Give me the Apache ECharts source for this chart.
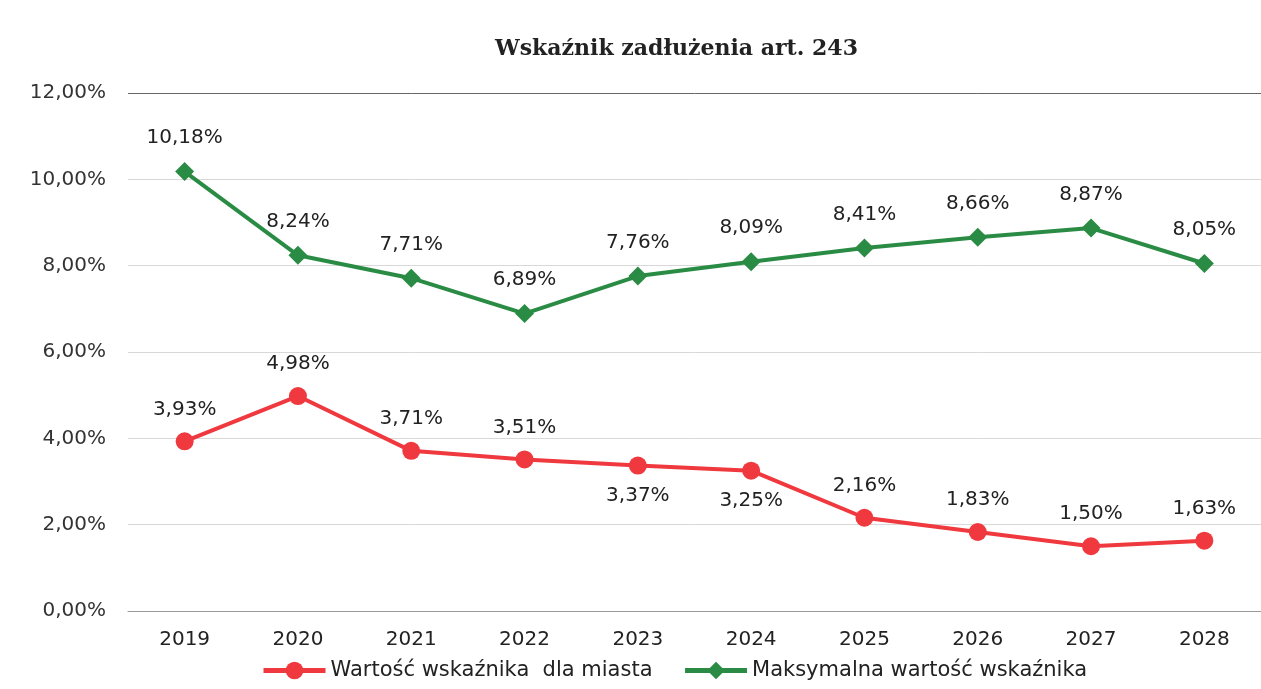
<!DOCTYPE html>
<html>
<head>
<meta charset="utf-8">
<title>Wskaźnik zadłużenia art. 243</title>
<script src="https://cdn.jsdelivr.net/npm/echarts@6/dist/echarts.min.js"></script>
<style>
  html, body { margin: 0; padding: 0; background: #fff; }
  #main { width: 1261px; height: 689px; }
</style>
</head>
<body>
<div id="main"></div>
<script>
var years = ['2019', '2020', '2021', '2022', '2023', '2024', '2025', '2026', '2027', '2028'];
var cityValues = [3.93, 4.98, 3.71, 3.51, 3.37, 3.25, 2.16, 1.83, 1.50, 1.63];
var maxValues = [10.18, 8.24, 7.71, 6.89, 7.76, 8.09, 8.41, 8.66, 8.87, 8.05];
// red labels below the point for these years
var cityBelow = ['2023', '2024'];

var chart = echarts.init(document.getElementById('main'));

function pct(v) {
  return v.toFixed(2).replace('.', ',') + '%';
}

var labelStyle = {
  show: true,
  fontFamily: 'DejaVu Sans',
  fontSize: 20,
  color: '#222',
  formatter: function (p) { return pct(p.value); }
};

var cityData = cityValues.map(function (v, i) {
  var below = cityBelow.indexOf(years[i]) >= 0;
  return {
    value: v,
    label: { position: below ? 'bottom' : 'top', distance: below ? 11 : 13 }
  };
});

var option = {
  backgroundColor: '#fff',
  title: {
    text: 'Wskaźnik zadłużenia art. 243',
    left: 490,
    top: 33,
    textStyle: {
      fontFamily: 'DejaVu Serif',
      fontWeight: 'bold',
      fontSize: 22,
      color: '#222'
    }
  },
  legend: {
    bottom: 3,
    left: 256,
    itemWidth: 62,
    itemHeight: 22,
    itemGap: 30,
    lineStyle: { width: 5 },
    textStyle: { fontFamily: 'DejaVu Sans', fontSize: 21, color: '#222' },
    data: ['Wartość wskaźnika  dla miasta', 'Maksymalna wartość wskaźnika']
  },
  grid: {
    left: 128,
    right: -9,
    top: 93,
    bottom: 78
  },
  xAxis: {
    type: 'category',
    data: years,
    axisLine: { show: true, lineStyle: { color: '#999' } },
    axisTick: { show: false },
    axisLabel: { fontFamily: 'DejaVu Sans', fontSize: 20, color: '#222', margin: 19 }
  },
  yAxis: {
    type: 'value',
    min: 0,
    max: 12,
    interval: 2,
    axisLine: { show: false },
    axisTick: { show: false },
    axisLabel: {
      fontFamily: 'DejaVu Sans',
      fontSize: 20,
      color: '#333',
      margin: 22,
      formatter: function (v) { return pct(v); }
    },
    splitLine: {
      lineStyle: {
        color: ['#999', '#d8d8d8', '#d8d8d8', '#d8d8d8', '#d8d8d8', '#d8d8d8', '#666']
      }
    }
  },
  series: [
    {
      name: 'Wartość wskaźnika  dla miasta',
      type: 'line',
      symbol: 'circle',
      symbolSize: 18,
      data: cityData,
      itemStyle: { color: '#ef393e' },
      lineStyle: { color: '#ef393e', width: 4 },
      label: labelStyle
    },
    {
      name: 'Maksymalna wartość wskaźnika',
      type: 'line',
      symbol: 'diamond',
      symbolSize: 19,
      data: maxValues,
      itemStyle: { color: '#2a8c44' },
      lineStyle: { color: '#2a8c44', width: 4 },
      label: Object.assign({}, labelStyle, { position: 'top', distance: 14 })
    }
  ]
};

chart.setOption(option);
</script>
</body>
</html>
